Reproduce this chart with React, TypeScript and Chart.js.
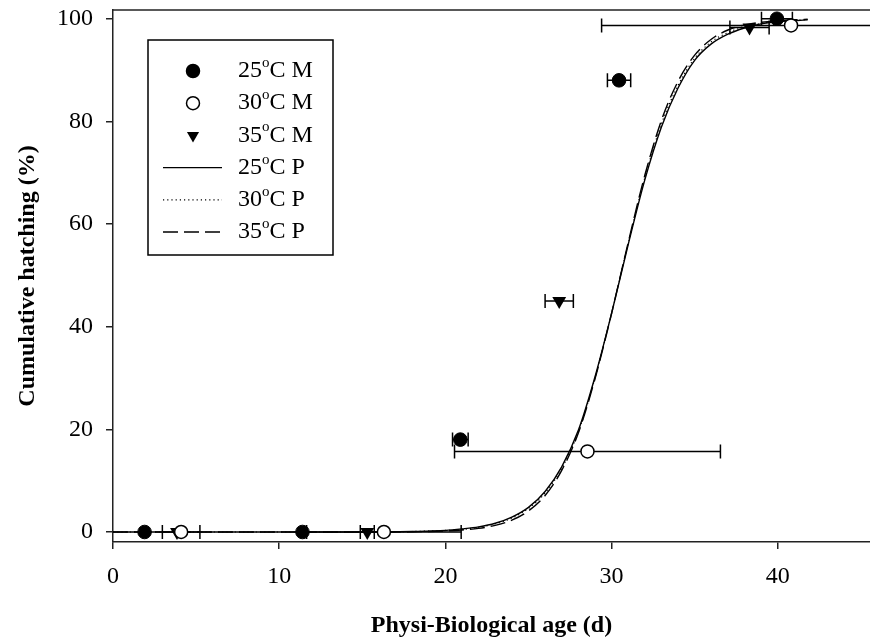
import { useEffect, useRef } from "react";
import { Chart, registerables } from "chart.js";

Chart.register(...registerables);

const FONT = "'Liberation Serif', 'Times New Roman', serif";

// Measured points (M) with horizontal error bars
const m25X = [1.9, 11.4, 20.9, 30.45, 39.95];
const m25Y = [0, 0, 18, 88, 100];
const m25Err = [0, 0, 0.47, 0.7, 0.93];

const m30X = [4.1, 16.3, 28.55, 40.8];
const m30Y = [0, 0, 15.7, 98.7];
const m30Err = [1.13, 4.65, 8.0, 11.4];

const m35X = [3.85, 15.3, 26.85, 38.3];
const m35Y = [0, 0, 45, 98.3];
const m35Err = [0, 0.42, 0.85, 1.18];

// Predicted curves (P)
const curveX = [0, 5, 10, 15, 18, 20, 21, 22, 23, 24, 25, 26, 27, 28, 29, 30, 31, 32, 33, 34, 35, 36, 37, 38, 39, 40, 41, 41.8];
const p25Y = [0, 0, 0, 0, 0.1, 0.3, 0.6, 1.0, 1.7, 2.9, 4.8, 7.9, 12.7, 19.8, 30.2, 42.6, 56.0, 68.6, 78.9, 86.5, 91.9, 95.1, 97.0, 98.2, 99.0, 99.4, 99.6, 99.8];
const p30Y = [0, 0, 0, 0, 0.1, 0.3, 0.5, 0.9, 1.6, 2.7, 4.6, 7.6, 12.4, 19.5, 30.0, 42.5, 56.2, 69.0, 79.5, 87.0, 92.3, 95.5, 97.3, 98.4, 99.1, 99.5, 99.7, 99.8];
const p35Y = [0, 0, 0, 0, 0.05, 0.2, 0.4, 0.7, 1.3, 2.3, 4.1, 7.1, 12.0, 19.3, 29.8, 42.6, 56.4, 69.5, 80.2, 87.8, 92.9, 96.0, 97.8, 98.8, 99.3, 99.6, 99.8, 99.9];

const xTicks = [0, 10, 20, 30, 40];
const yTicks = [0, 20, 40, 60, 80, 100];

const legendTemps = ["25", "30", "35", "25", "30", "35"];
const legendSuffix = ["C M", "C M", "C M", "C P", "C P", "C P"];

const pts = (xs: number[], ys: number[]) => xs.map((x, i) => ({ x, y: ys[i] }));

const errorBarPlugin = {
  id: "errorBars",
  beforeDatasetsDraw(chart: any) {
    const { ctx, scales } = chart;
    const xs = scales.x;
    const ys = scales.y;
    ctx.save();
    ctx.strokeStyle = "#000";
    ctx.lineWidth = 1.5;
    chart.data.datasets.forEach((ds: any) => {
      const err = ds.xErr;
      if (!err) return;
      ds.data.forEach((p: any, i: number) => {
        const e = err[i];
        if (!e) return;
        const y = ys.getPixelForValue(p.y);
        const x1 = xs.getPixelForValue(p.x - e);
        const x2 = xs.getPixelForValue(p.x + e);
        ctx.beginPath();
        ctx.moveTo(x1, y);
        ctx.lineTo(x2, y);
        ctx.moveTo(x1, y - 7);
        ctx.lineTo(x1, y + 7);
        ctx.moveTo(x2, y - 7);
        ctx.lineTo(x2, y + 7);
        ctx.stroke();
      });
    });
    ctx.restore();
  },
};

const frameAndLegendPlugin = {
  id: "frameLegend",
  afterDraw(chart: any) {
    const { ctx, chartArea } = chart;
    ctx.save();
    // top frame line
    ctx.strokeStyle = "#222";
    ctx.lineWidth = 1.5;
    ctx.beginPath();
    ctx.moveTo(chartArea.left, chartArea.top);
    ctx.lineTo(chartArea.right, chartArea.top);
    ctx.stroke();

    // legend box
    const bx = chartArea.left + 35;
    const by = chartArea.top + 30;
    const bw = 185;
    const bh = 215;
    ctx.fillStyle = "#fff";
    ctx.fillRect(bx, by, bw, bh);
    ctx.strokeStyle = "#000";
    ctx.lineWidth = 1.5;
    ctx.strokeRect(bx, by, bw, bh);

    const ds = chart.data.datasets;
    ds.forEach((d: any, i: number) => {
      const ry = by + 31 + i * 32.2;
      const sx = bx + 45;
      ctx.save();
      if (d.showLine) {
        ctx.strokeStyle = "#000";
        ctx.lineWidth = d.borderWidth;
        ctx.setLineDash(d.borderDash || []);
        ctx.beginPath();
        ctx.moveTo(bx + 15, ry);
        ctx.lineTo(bx + 74, ry);
        ctx.stroke();
      } else {
        ctx.fillStyle = d.backgroundColor;
        ctx.strokeStyle = "#000";
        ctx.lineWidth = 1.5;
        ctx.beginPath();
        if (d.pointStyle === "triangle") {
          const r = 7;
          ctx.moveTo(sx, ry + r);
          ctx.lineTo(sx - r * 0.866, ry - r / 2);
          ctx.lineTo(sx + r * 0.866, ry - r / 2);
          ctx.closePath();
          ctx.fill();
        } else {
          ctx.arc(sx, ry, 6.5, 0, Math.PI * 2);
          ctx.fill();
          ctx.stroke();
        }
      }
      ctx.restore();
      // label with superscript "o"
      ctx.fillStyle = "#000";
      ctx.textBaseline = "middle";
      ctx.textAlign = "left";
      let tx = bx + 90;
      ctx.font = `24px ${FONT}`;
      ctx.fillText(legendTemps[i], tx, ry);
      tx += ctx.measureText(legendTemps[i]).width;
      ctx.font = `15px ${FONT}`;
      ctx.fillText("o", tx, ry - 8);
      tx += ctx.measureText("o").width;
      ctx.font = `24px ${FONT}`;
      ctx.fillText(legendSuffix[i], tx, ry);
    });
    ctx.restore();
  },
};

export default function App() {
  const ref = useRef<HTMLCanvasElement>(null);
  useEffect(() => {
    document.body.style.margin = "0";
    if (!ref.current) return;
    const chart = new Chart(ref.current, {
      type: "scatter",
      data: {
        datasets: [
          {
            label: "25°C M",
            data: pts(m25X, m25Y),
            xErr: m25Err,
            pointStyle: "circle",
            pointRadius: 6.8,
            backgroundColor: "#000",
            borderColor: "#000",
            borderWidth: 1,
            showLine: false,
          } as any,
          {
            label: "30°C M",
            data: pts(m30X, m30Y),
            xErr: m30Err,
            pointStyle: "circle",
            pointRadius: 6.5,
            backgroundColor: "#fff",
            borderColor: "#000",
            borderWidth: 1.5,
            showLine: false,
          } as any,
          {
            label: "35°C M",
            data: pts(m35X, m35Y),
            xErr: m35Err,
            pointStyle: "triangle",
            rotation: 180,
            pointRadius: 8,
            backgroundColor: "#000",
            borderColor: "#000",
            borderWidth: 0,
            showLine: false,
          } as any,
          {
            label: "25°C P",
            data: pts(curveX, p25Y),
            showLine: true,
            pointRadius: 0,
            borderColor: "#000",
            borderWidth: 1.4,
            borderDash: [],
            cubicInterpolationMode: "monotone",
          } as any,
          {
            label: "30°C P",
            data: pts(curveX, p30Y),
            showLine: true,
            pointRadius: 0,
            borderColor: "#000",
            borderWidth: 1.2,
            borderDash: [1.2, 3],
            cubicInterpolationMode: "monotone",
          } as any,
          {
            label: "35°C P",
            data: pts(curveX, p35Y),
            showLine: true,
            pointRadius: 0,
            borderColor: "#000",
            borderWidth: 1.4,
            borderDash: [15, 6],
            cubicInterpolationMode: "monotone",
          } as any,
        ],
      },
      options: {
        animation: false,
        responsive: true,
        maintainAspectRatio: false,
        layout: { autoPadding: false, padding: { top: 10, right: 0, left: 0, bottom: 0 } },
        plugins: {
          legend: { display: false },
          tooltip: { enabled: false },
        },
        scales: {
          x: {
            type: "linear",
            min: 0,
            max: 45.55,
            afterFit: (s: any) => {
              s.height = 98;
              s.paddingLeft = 0;
              s.paddingRight = 0;
            },
            afterBuildTicks: (s: any) => {
              s.ticks = xTicks.map((v) => ({ value: v }));
            },
            ticks: {
              color: "#000",
              font: { family: FONT, size: 24 },
              padding: 13,
              maxRotation: 0,
            },
            grid: {
              display: true,
              drawOnChartArea: false,
              drawTicks: true,
              tickLength: 7,
              color: "#222",
              lineWidth: 1.5,
            },
            border: { display: true, color: "#222", width: 1.5 },
            title: {
              display: true,
              text: "Physi-Biological age (d)",
              color: "#000",
              font: { family: FONT, size: 24, weight: "bold" },
              padding: { top: 0, bottom: 0 },
            },
          },
          y: {
            type: "linear",
            min: -1.95,
            max: 101.7,
            afterFit: (s: any) => {
              s.width = 113;
              s.paddingTop = 0;
              s.paddingBottom = 0;
            },
            afterBuildTicks: (s: any) => {
              s.ticks = yTicks.map((v) => ({ value: v }));
            },
            ticks: {
              color: "#000",
              font: { family: FONT, size: 24 },
              padding: 13,
            },
            grid: {
              display: true,
              drawOnChartArea: false,
              drawTicks: true,
              tickLength: 7,
              color: "#222",
              lineWidth: 1.5,
            },
            border: { display: true, color: "#222", width: 1.5 },
            title: {
              display: true,
              text: "Cumulative hatching (%)",
              color: "#000",
              font: { family: FONT, size: 24, weight: "bold" },
              padding: { top: 13, bottom: 0 },
            },
          },
        },
      } as any,
      plugins: [errorBarPlugin, frameAndLegendPlugin],
    });
    return () => chart.destroy();
  }, []);

  return (
    <div style={{ position: "absolute", left: 0, top: 0, width: 870, height: 640 }}>
      <canvas ref={ref} />
    </div>
  );
}
